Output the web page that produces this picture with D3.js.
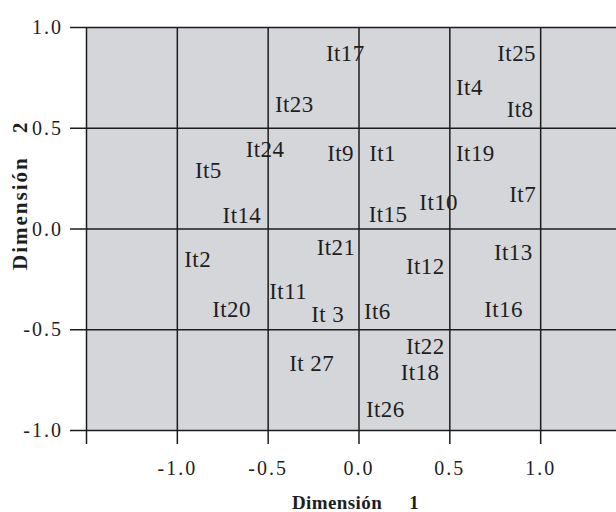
<!DOCTYPE html>
<html>
<head>
<meta charset="utf-8">
<script src="https://cdn.jsdelivr.net/npm/d3@7"></script>
<style>
  html, body { margin: 0; padding: 0; background: #fff; }
  svg { display: block; }
  text { font-family: "Liberation Serif", "Times New Roman", serif; fill: #1e1e1e; }
</style>
</head>
<body>
<svg id="chart" width="616" height="512"></svg>
<script>
// Item coordinates on the two MDS dimensions
const items = ["It17", "It25", "It4", "It8", "It23", "It24", "It9", "It1", "It19",
               "It5", "It7", "It10", "It14", "It15", "It21", "It13", "It12", "It2",
               "It11", "It20", "It 3", "It6", "It16", "It22", "It 27", "It18", "It26"];
const dim1 = [-0.179, 0.764, 0.537, 0.816, -0.460, -0.621, -0.172, 0.059, 0.537,
              -0.900, 0.830, 0.335, -0.748, 0.056, -0.230, 0.746, 0.261, -0.959,
              -0.491, -0.805, -0.260, 0.030, 0.692, 0.261, -0.381, 0.232, 0.041];
const dim2 = [0.831, 0.831, 0.663, 0.555, 0.580, 0.356, 0.336, 0.335, 0.336,
              0.249, 0.130, 0.092, 0.026, 0.034, -0.132, -0.158, -0.226, -0.190,
              -0.350, -0.438, -0.464, -0.449, -0.438, -0.624, -0.706, -0.752, -0.934];

const xTicks = [-1.5, -1.0, -0.5, 0.0, 0.5, 1.0, 1.5];
const xTickLabels = ["", "-1.0", "-0.5", "0.0", "0.5", "1.0", ""];
const yTicks = [-1.0, -0.5, 0.0, 0.5, 1.0];
const yTickLabels = ["-1.0", "-0.5", "0.0", "0.5", "1.0"];

const xTitle = "Dimensión";
const xTitleNum = "1";
const yTitle = "Dimensión";
const yTitleNum = "2";

const svg = d3.select("#chart");
const marginLeft = 86, marginTop = 27, plotW = 545, plotH = 403;

const x = d3.scaleLinear().domain([-1.5, 1.5]).range([marginLeft, marginLeft + plotW]);
const y = d3.scaleLinear().domain([-1.0, 1.0]).range([marginTop + plotH, marginTop]);

// Plot background
svg.append("rect")
  .attr("x", x(-1.5)).attr("y", y(1.0))
  .attr("width", x(1.5) - x(-1.5)).attr("height", y(-1.0) - y(1.0))
  .attr("fill", "#d5d6da");

const lineColor = "#1c1c1c";

// Horizontal grid lines with ticks poking out on the left
const yAxis = svg.append("g")
  .attr("transform", `translate(${marginLeft},0)`)
  .call(d3.axisLeft(y).tickValues(yTicks)
    .tickFormat((d, i) => yTickLabels[i])
    .tickSize(-plotW).tickPadding(23));
yAxis.select(".domain").remove();
yAxis.selectAll(".tick line")
  .attr("x1", -16).attr("x2", plotW)
  .attr("stroke", lineColor).attr("stroke-width", 1.5);
yAxis.selectAll(".tick text")
  .attr("dy", "0.33em")
  .style("font-size", "20px").style("letter-spacing", "2px")
  .attr("fill", "#1e1e1e");

// Vertical grid lines with ticks poking out below
const xAxis = svg.append("g")
  .attr("transform", `translate(0,${marginTop + plotH})`)
  .call(d3.axisBottom(x).tickValues(xTicks)
    .tickFormat((d, i) => xTickLabels[i])
    .tickSize(-plotH));
xAxis.select(".domain").remove();
xAxis.selectAll(".tick line")
  .attr("y1", 14).attr("y2", -plotH)
  .attr("stroke", lineColor).attr("stroke-width", 1.5);
xAxis.selectAll(".tick text")
  .attr("y", 45).attr("dy", 0)
  .style("font-size", "20px").style("letter-spacing", "2px")
  .attr("fill", "#1e1e1e");

// Item labels
svg.append("g").selectAll("text")
  .data(items)
  .join("text")
  .attr("x", (d, i) => x(dim1[i]))
  .attr("y", (d, i) => y(dim2[i]))
  .style("font-size", "23px")
  .style("letter-spacing", "0.4px")
  .style("white-space", "pre")
  .text(d => d);

// Axis titles
const xt = svg.append("text")
  .attr("x", 292).attr("y", 509)
  .style("font-size", "19px").style("font-weight", "bold")
  .style("letter-spacing", "0.4px");
xt.append("tspan").text(xTitle + " ");
xt.append("tspan").attr("dx", 22).text(xTitleNum);

const yt = svg.append("text")
  .attr("transform", "translate(27,270) rotate(-90)")
  .style("font-size", "21px").style("font-weight", "bold")
  .style("letter-spacing", "2px");
yt.append("tspan").text(yTitle + " ");
yt.append("tspan").attr("dx", 16).text(yTitleNum);
</script>
</body>
</html>
